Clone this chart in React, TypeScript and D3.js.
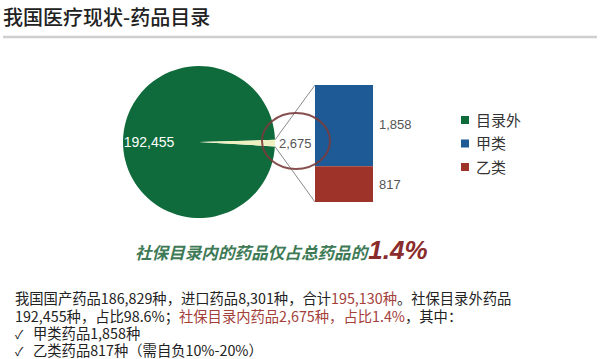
import React from 'react';
import * as d3 from 'd3';

const titleText = '我国医疗现状-药品目录';
const categories = ['目录外', '甲类', '乙类'];
const colors = ['#0f6b3b', '#1d5a96', '#9e3429'];
const pieValues = [2675, 192455];
const pieLabels = ['2,675', '192,455'];
const barValues = [1858, 817];
const barLabels = ['1,858', '817'];
const subtitleText = '社保目录内的药品仅占总药品的';
const subtitleValue = '1.4%';

const W = 600;
const H = 359;
const CJK = '"Noto Sans CJK SC", sans-serif';
const NUM = '"Liberation Sans", Arial, "Noto Sans CJK SC", sans-serif';

export default function App() {
  const cx = 199;
  const cy = 142;
  const r = 76;
  const total = d3.sum(pieValues);
  const smallAngle = (2 * Math.PI * pieValues[0]) / total;
  const start = Math.PI / 2 - smallAngle / 2 + 0.015;
  const pie = d3.pie<number>().sort(null).startAngle(start).endAngle(start + 2 * Math.PI);
  const arcs = pie(pieValues);
  const arcGen = d3.arc<d3.PieArcDatum<number>>().innerRadius(0).outerRadius(r);

  const pt = (a: number) => [cx + r * Math.sin(a), cy - r * Math.cos(a)];
  const p1 = pt(arcs[0].startAngle);
  const p2 = pt(arcs[0].endAngle);

  const barX = 315;
  const barW = 58;
  const barTop = 85;
  const barBottom = 202;
  const barSum = d3.sum(barValues);
  const y = d3.scaleLinear().domain([0, barSum]).range([barTop, barBottom]);
  const barStack: { v: number; y0: number; y1: number; c: string; label: string }[] = [];
  let acc = 0;
  barValues.forEach((v, i) => {
    barStack.push({ v, y0: y(acc), y1: y(acc + v), c: colors[i + 1], label: barLabels[i] });
    acc += v;
  });

  const bigCentroid = [cx - 50, cy];

  return (
    <svg
      width={W}
      height={H}
      style={{ position: 'absolute', left: 0, top: 0, background: '#fff' }}
      xmlns="http://www.w3.org/2000/svg"
    >
      <defs>
        <linearGradient id="ySlice" gradientUnits="userSpaceOnUse" x1={cx} y1={cy} x2={cx + r} y2={cy}>
          <stop offset="0" stopColor="#eef0c0" />
          <stop offset="0.45" stopColor="#e4d43c" />
          <stop offset="1" stopColor="#d9aa28" />
        </linearGradient>
      </defs>
      <rect x={0} y={0} width={W} height={H} fill="#fff" />
      <text x={3} y={25} fontFamily={CJK} fontSize={20} fill="#222" fontWeight={500}>
        {titleText}
      </text>
      <line x1={3} x2={597} y1={37} y2={37} stroke="#cfcfcf" strokeWidth={2.5} />

      <line x1={p1[0]} y1={p1[1]} x2={barX} y2={barTop} stroke="#8a8a8a" strokeWidth={1} />
      <line x1={p2[0]} y1={p2[1]} x2={barX} y2={barBottom} stroke="#8a8a8a" strokeWidth={1} />

      <g transform={`translate(${cx},${cy})`}>
        <path d={arcGen(arcs[1]) || ''} fill={colors[0]} />
        <path d={arcGen(arcs[0]) || ''} fill="url(#ySlice)" transform={`translate(${-cx},${-cy})`} style={{ display: 'none' }} />
      </g>
      <path d={arcGen(arcs[0]) || ''} transform={`translate(${cx},${cy})`} fill="url(#ySlice)" />
      <text x={bigCentroid[0]} y={cy + 5} fontFamily={NUM} fontSize={14} fill="#fff" textAnchor="middle">
        {pieLabels[1]}
      </text>

      {barStack.map((b, i) => (
        <g key={i}>
          <rect x={barX} y={b.y0} width={barW} height={b.y1 - b.y0} fill={b.c} />
          <text x={barX + barW + 6} y={(b.y0 + b.y1) / 2 + 5 + (i === 0 ? -2 : 0)} fontFamily={NUM} fontSize={13} fill="#555">
            {b.label}
          </text>
        </g>
      ))}

      <ellipse cx={296} cy={141} rx={34} ry={28} fill="none" stroke="#7a3c3c" strokeWidth={2} opacity={0.9} />
      <text x={279} y={148} fontFamily={NUM} fontSize={13} fill="#555">
        {pieLabels[0]}
      </text>

      {categories.map((c, i) => (
        <g key={c} transform={`translate(465,${120 + i * 23.5})`}>
          <rect x={-4} y={-4} width={8} height={8} fill={colors[i]} />
          <text x={11} y={5.5} fontFamily={CJK} fontSize={15} fill="#333">
            {c}
          </text>
        </g>
      ))}

      <text x={135} y={259} fontFamily={CJK} fontStyle="italic" fontWeight={700}>
        <tspan fontSize={16.6} fill="#3d7a55">{subtitleText}</tspan>
        <tspan fontSize={26} fill="#8b2c2c" fontFamily={NUM} dx={1}>{subtitleValue}</tspan>
      </text>

      <g fontFamily={CJK} fontSize={14.3} fill="#222">
        <text x={15} y={304}>
          <tspan>我国国产药品186,829种，进口药品8,301种，合计</tspan>
          <tspan fill="#a3403a">195,130种</tspan>
          <tspan>。社保目录外药品</tspan>
        </text>
        <text x={15} y={321.5}>
          <tspan>192,455种，占比98.6%；</tspan>
          <tspan fill="#a3403a">社保目录内药品2,675种，占比1.4%</tspan>
          <tspan>，其中：</tspan>
        </text>
        <text x={15} y={338.5}>
          <tspan fontSize={12}>✓</tspan>
          <tspan x={33}>甲类药品1,858种</tspan>
        </text>
        <text x={15} y={355.5}>
          <tspan fontSize={12}>✓</tspan>
          <tspan x={33}>乙类药品817种（需自负10%-20%）</tspan>
        </text>
      </g>
    </svg>
  );
}
